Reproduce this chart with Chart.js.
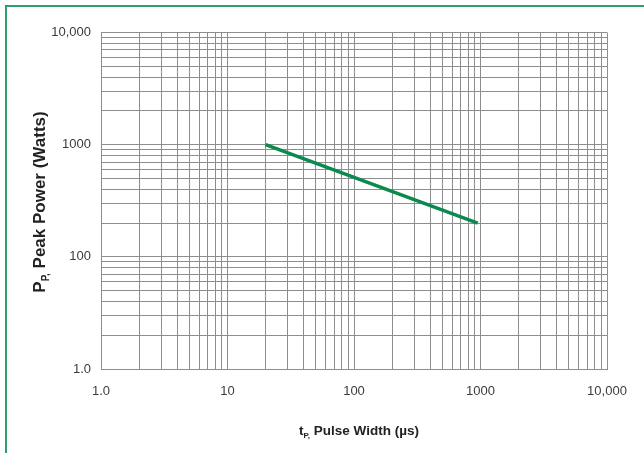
<!DOCTYPE html>
<html>
<head>
<meta charset="utf-8">
<script src="https://cdn.jsdelivr.net/npm/chart.js@4/dist/chart.umd.min.js"></script>
<style>
  html, body { margin: 0; padding: 0; background: #fff; }
  #wrap { position: relative; width: 644px; height: 453px; overflow: hidden; }
  #frame {
    position: absolute; left: 5px; top: 5px; width: 700px; height: 500px;
    border-top: 2px solid #2e9e6e; border-left: 2px solid #2e9e6e;
  }
  canvas { position: absolute; left: 0; top: 0; }
</style>
</head>
<body>
<div id="wrap">
  <div id="frame"></div>
  <canvas id="pulseChart" width="644" height="453"></canvas>
</div>
<script>
// Pulse width (us) vs peak power (W)
const pulseWidth = [20, 950];
const peakPower = [1000, 200];

// Decade labels on each axis (the bottom y label reads "1.0" in the original)
const xTickValues = [1, 10, 100, 1000, 10000];
const xTickLabels = ['1.0', '10', '100', '1000', '10,000'];
const yTickValues = [10, 100, 1000, 10000];
const yTickLabels = ['1.0', '100', '1000', '10,000'];

const gridColor = '#8e8e8e';
const lineColor = '#0a8a4e';
const tickFont = { family: 'Liberation Sans, Arial, sans-serif', size: 13 };

/**
 * Grid lines for every 1..9 step inside each decade
 */
function logTicks(decades) {
    const ticks = [];
    for (let i = 0; i < decades.length; i++) {
        ticks.push({ value: decades[i] });
        if (i < decades.length - 1) {
            for (let k = 2; k <= 9; k++) {
                ticks.push({ value: decades[i] * k });
            }
        }
    }
    return ticks;
}

function labelFor(values, labels) {
    return function(value) {
        const idx = values.indexOf(value);
        return idx >= 0 ? labels[idx] : '';
    };
}

// Axis titles with subscript P, drawn on the canvas
const axisTitles = {
    id: 'axisTitles',
    afterDraw(chart) {
        const ctx = chart.ctx;
        const drawTitle = (main, sub, rest, size, subSize) => {
            const big = `bold ${size}px Liberation Sans, Arial, sans-serif`;
            const small = `bold ${subSize}px Liberation Sans, Arial, sans-serif`;
            ctx.font = big;
            const w1 = ctx.measureText(main).width;
            const w3 = ctx.measureText(rest).width;
            ctx.font = small;
            const w2 = ctx.measureText(sub).width;
            let x = -(w1 + w2 + w3) / 2;
            ctx.textBaseline = 'alphabetic';
            ctx.textAlign = 'left';
            ctx.fillStyle = '#222';
            ctx.font = big;
            ctx.fillText(main, x, size * 0.36);
            x += w1;
            ctx.font = small;
            ctx.fillText(sub, x, size * 0.36 + subSize * 0.35);
            x += w2;
            ctx.font = big;
            ctx.fillText(rest, x, size * 0.36);
        };

        ctx.save();
        ctx.translate(359, 430);
        drawTitle('t', 'P,', ' Pulse Width (\u00b5s)', 13.5, 8);
        ctx.restore();

        ctx.save();
        ctx.translate(39, 202);
        ctx.rotate(-Math.PI / 2);
        drawTitle('P', 'P,', ' Peak Power (Watts)', 17, 10);
        ctx.restore();
    }
};

document.addEventListener('DOMContentLoaded', function() {
    const ctx = document.getElementById('pulseChart').getContext('2d');

    new Chart(ctx, {
        type: 'line',
        data: {
            datasets: [{
                data: pulseWidth.map((x, i) => ({ x: x, y: peakPower[i] })),
                borderColor: lineColor,
                borderWidth: 3.5,
                pointRadius: 0,
                fill: false,
                tension: 0
            }]
        },
        options: {
            responsive: false,
            animation: false,
            layout: {
                padding: { left: 0, top: 32.5, right: 37, bottom: 0 }
            },
            plugins: {
                legend: { display: false },
                tooltip: { enabled: false }
            },
            scales: {
                x: {
                    type: 'logarithmic',
                    min: 1,
                    max: 10000,
                    afterBuildTicks: function(scale) {
                        scale.ticks = logTicks(xTickValues);
                    },
                    afterFit: function(scale) {
                        scale.height = 84;
                    },
                    ticks: {
                        autoSkip: false,
                        maxRotation: 0,
                        padding: 15,
                        color: '#3c3c3c',
                        font: tickFont,
                        callback: labelFor(xTickValues, xTickLabels)
                    },
                    grid: {
                        color: gridColor,
                        lineWidth: 1,
                        drawTicks: false
                    },
                    border: { color: gridColor, width: 1 }
                },
                y: {
                    type: 'logarithmic',
                    min: 10,
                    max: 10000,
                    afterBuildTicks: function(scale) {
                        scale.ticks = logTicks(yTickValues);
                    },
                    afterFit: function(scale) {
                        scale.width = 101;
                    },
                    ticks: {
                        autoSkip: false,
                        padding: 10,
                        color: '#3c3c3c',
                        font: tickFont,
                        callback: labelFor(yTickValues, yTickLabels)
                    },
                    grid: {
                        color: gridColor,
                        lineWidth: 1,
                        drawTicks: false
                    },
                    border: { color: gridColor, width: 1 }
                }
            }
        },
        plugins: [axisTitles]
    });
});
</script>
</body>
</html>
